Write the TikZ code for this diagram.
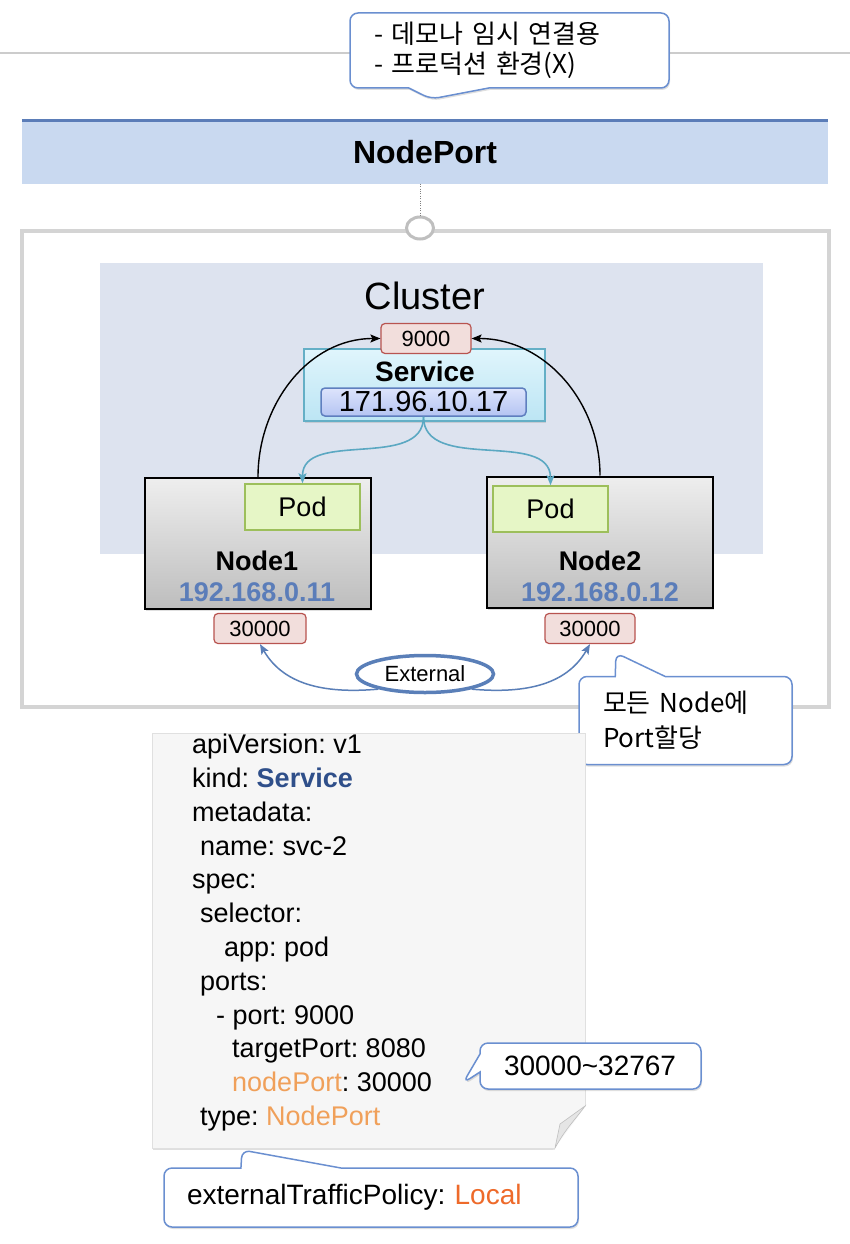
\documentclass[tikz,border=0pt]{standalone}
\usepackage{fontspec}
\setmainfont{Liberation Sans}
\newfontfamily\krfont{Noto Sans CJK KR}
\usetikzlibrary{shapes.geometric,shapes.callouts,shadows,arrows.meta}
\frenchspacing

\definecolor{linegray}{HTML}{CCCCCC}
\definecolor{bandblue}{HTML}{C9D9F0}
\definecolor{bandline}{HTML}{5B7DB8}
\definecolor{framegray}{HTML}{D4D4D4}
\definecolor{ringgray}{HTML}{BFBFBF}
\definecolor{clusterbg}{HTML}{DDE3EF}
\definecolor{portfill}{HTML}{F2DEDC}
\definecolor{portred}{HTML}{B85450}
\definecolor{svctop}{HTML}{E0F5FC}
\definecolor{svcbot}{HTML}{BCE5F4}
\definecolor{svcborder}{HTML}{64AFC6}
\definecolor{iptop}{HTML}{DDE4FC}
\definecolor{ipbot}{HTML}{B4C4F2}
\definecolor{ipborder}{HTML}{5F7FBF}
\definecolor{nodetop}{HTML}{EEEEEE}
\definecolor{nodebot}{HTML}{BDBDBD}
\definecolor{podfill}{HTML}{E6F6C6}
\definecolor{podborder}{HTML}{9DBF5B}
\definecolor{nodeip}{HTML}{5B7DB9}
\definecolor{tealline}{HTML}{5BA8C2}
\definecolor{extblue}{HTML}{5A7FB8}
\definecolor{noteblue}{HTML}{6A8FD0}
\definecolor{sheetfill}{HTML}{F6F6F6}
\definecolor{svctext}{HTML}{2F4F8A}
\definecolor{orangetxt}{HTML}{F0A05A}
\definecolor{localtxt}{HTML}{EE6A2A}

\begin{document}
\begin{tikzpicture}[
    x=1pt, y=-1pt,
    softshadow/.style={drop shadow={opacity=0.25, shadow xshift=1pt, shadow yshift=-2pt}},
    port/.style={
        rectangle,
        rounded corners=4pt,
        draw=portred,
        line width=1.2pt,
        fill=portfill,
        minimum width=#1,
        minimum height=30pt,
        inner sep=0pt,
        font=\fontsize{22}{24}\selectfont
    },
    nodebox/.style={
        rectangle,
        draw=black,
        line width=2pt,
        top color=nodetop,
        bottom color=nodebot,
        minimum width=226pt,
        minimum height=131pt,
        softshadow
    },
    podbox/.style={
        rectangle,
        draw=podborder,
        line width=1.5pt,
        fill=podfill,
        minimum width=115pt,
        minimum height=46pt,
        inner sep=0pt,
        font=\fontsize{27}{30}\selectfont
    },
    nodename/.style={font=\fontsize{27}{30}\selectfont\bfseries},
    nodeaddr/.style={font=\fontsize{27}{30}\selectfont\bfseries, text=nodeip},
    note/.style={
        rectangle callout,
        rounded corners=8pt,
        draw=noteblue,
        line width=1.5pt,
        fill=white,
        align=left,
        softshadow
    },
    code/.style={anchor=base west, inner sep=0pt, font=\fontsize{27}{30}\selectfont},
    arrow/.style={-{Stealth[length=10pt,width=8pt,inset=2pt]}, line width=1.4pt},
    tealarrow/.style={arrow, tealline, line width=1.6pt},
    extarrow/.style={arrow, extblue, line width=1.5pt}
]
\useasboundingbox (0,0) rectangle (850,1244);

\draw[line width=2.5pt, linegray] (0,53) -- (850,53);

\node[note, minimum width=319pt, minimum height=75pt, text width=271pt, inner xsep=24pt,
      callout absolute pointer={(431,99)}, callout pointer width=80pt,
      font=\krfont\fontsize{26}{30}\selectfont] (demo) at (509.5,50.5)
      {- 데모나 임시 연결용\\- 프로덕션 환경(X)};

\node[rectangle, fill=bandblue, minimum width=806pt, minimum height=63pt,
      font=\fontsize{32}{36}\selectfont\bfseries] (band) at (425,152) {NodePort};
\draw[line width=3.5pt, bandline] (band.north west) -- (band.north east);

\node[rectangle, draw=framegray, line width=4pt, fill=white,
      minimum width=807pt, minimum height=476pt] (frame) at (425.5,469) {};
\node[ellipse, draw=ringgray, line width=3pt, fill=white,
      minimum width=27pt, minimum height=22pt, inner sep=0pt] (ring) at (420,228) {};
\draw[dotted, gray] (ring |- band.south) -- (ring.north);

\node[rectangle, fill=clusterbg, minimum width=663pt, minimum height=291pt] (cluster) at (431.5,408.5) {};
\node[font=\fontsize{38}{40}\selectfont] (clusterlbl) at (425,296) {Cluster};

\node[rectangle, draw=svcborder, line width=1.5pt, top color=svctop, bottom color=svcbot,
      minimum width=241pt, minimum height=72pt, softshadow] (svc) at (424.5,385) {};
\node[font=\fontsize{28}{30}\selectfont\bfseries] (svclbl) at (425,371) {Service};
\node[rectangle, rounded corners=4pt, draw=ipborder, line width=1.5pt, top color=iptop, bottom color=ipbot,
      minimum width=205pt, minimum height=28pt, inner sep=0pt,
      font=\fontsize{29}{30}\selectfont] (svcip) at (423.5,402) {171.96.10.17};
\node[port=90pt] (svcport) at (426,338.5) {9000};

\node[nodebox] (node1) at (258,543.5) {};
\node[nodebox] (node2) at (600,542) {};
\node[podbox] (pod1) at (302.5,507) {Pod};
\node[podbox] (pod2) at (550.5,509) {Pod};
\node[nodename] (n1name) at (257,561) {Node1};
\node[nodeaddr] (n1addr) at (257,592) {192.168.0.11};
\node[nodename] (n2name) at (600,561) {Node2};
\node[nodeaddr] (n2addr) at (600,592) {192.168.0.12};

\node[port=92pt] (np1) at (260,628.5) {30000};
\node[port=90pt] (np2) at (590,628.5) {30000};

\draw[arrow] (node1.north) to[out=90, in=180] (svcport.west);
\draw[arrow] (node2.north) to[out=90, in=0] (svcport.east);
\draw[tealarrow] (svcip.south) to[out=-90, in=90] (pod1.north);
\draw[tealarrow] (svcip.south) to[out=-90, in=90] (pod2.north);

\node[ellipse, draw=extblue, line width=3.5pt, fill=white, minimum width=137pt, minimum height=37pt,
      inner sep=0pt, font=\fontsize{22}{24}\selectfont] (ext) at (425,674) {External};
\draw[extarrow] (ext.198) to[out=185, in=-60] (np1.south);
\draw[extarrow] (ext.-18) to[out=-5, in=-120] (np2.south);

\node[note, minimum width=213pt, minimum height=88pt, text width=165pt, inner xsep=24pt,
      callout absolute pointer={(616,653)}, callout pointer width=50pt,
      font=\krfont\fontsize{26}{35}\selectfont] (allnodes) at (685.5,720.5)
      {모든 Node에\\Port할당};

\node[rectangle, draw=black!12, fill=sheetfill, minimum width=433pt, minimum height=415pt,
      softshadow] (yaml) at (368.5,940.5) {};
\fill[white] (586,1106) -- (588,1152) -- (552,1152) -- cycle;
\draw[fill=black!10, draw=black!25, line width=0.6pt]
    (585,1106) .. controls (575,1120) and (566,1128) .. (555,1148) -- (560,1124) -- cycle;

\node[code] (apiver) at (192,753) {apiVersion: v1};
\node[code] (kind) at (192,787) {kind: \textcolor{svctext}{\bfseries Service}};
\node[code] (meta) at (192,821) {metadata:};
\node[code] (name) at (200,855) {name: svc-2};
\node[code] (spec) at (192,888) {spec:};
\node[code] (sel) at (200,922) {selector:};
\node[code] (app) at (224,956) {app: pod};
\node[code] (ports) at (200,990) {ports:};
\node[code] (port) at (216,1024) {- port: 9000};
\node[code] (tport) at (232,1057) {targetPort: 8080};
\node[code] (nport) at (232,1091) {\textcolor{orangetxt}{nodePort}: 30000};
\node[code] (type) at (200,1125) {type: \textcolor{orangetxt}{NodePort}};

\node[note, minimum width=221pt, minimum height=46pt, text width=173pt, inner xsep=24pt,
      callout absolute pointer={(463,1083)}, callout pointer width=18pt,
      font=\fontsize{28}{30}\selectfont] (range) at (590.5,1066) {30000\textasciitilde 32767};

\node[note, minimum width=414pt, minimum height=59pt, text width=368pt, inner xsep=23pt,
      callout absolute pointer={(242,1150)}, callout pointer width=100pt,
      font=\fontsize{28}{30}\selectfont] (policy) at (371,1197.5)
      {externalTrafficPolicy: \textcolor{localtxt}{Local}};

\end{tikzpicture}
\end{document}
